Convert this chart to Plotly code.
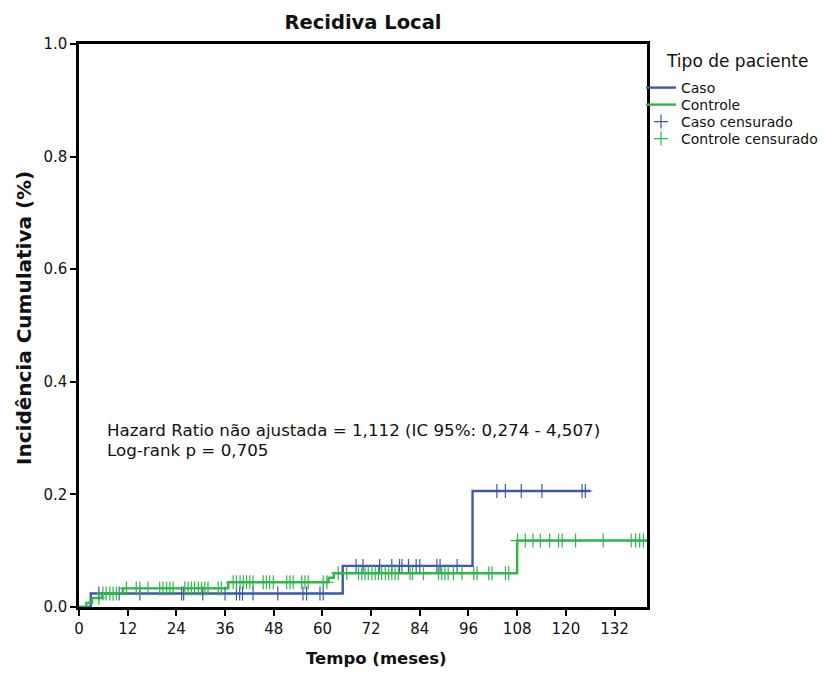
import plotly.graph_objects as go
import numpy as np

# ---- data ----
caso_t = [0, 2.9, 65.0, 97.0, 126.0]
caso_y = [0, 0.024, 0.073, 0.206, 0.206]
ctrl_t = [0, 1.8, 3.2, 5.7, 10.8, 36.8, 61.5, 62.8, 108.0, 140.0]
ctrl_y = [0, 0.007, 0.016, 0.024, 0.033, 0.044, 0.052, 0.060, 0.118, 0.118]

caso_cens = [4.9, 9.9, 15.0, 25.3, 25.8, 30.5, 36.0, 38.8, 39.6, 40.3, 42.9, 49.0,
             55.2, 56.1, 59.4, 60.2, 68.3, 70.0, 74.1, 77.1, 79.0, 79.6, 81.2, 83.1,
             84.0, 88.2, 89.0, 93.2, 103.0, 105.1, 109.0, 114.1, 124.0, 124.8]
ctrl_cens = [4.9, 5.9, 6.7, 7.6, 8.4, 9.2, 11.7, 14.1, 15.0, 17.0, 19.9, 20.7, 21.6,
             22.4, 23.2, 26.1, 26.9, 27.7, 28.5, 29.4, 30.2, 31.0, 31.8, 34.3, 35.1,
             38.0, 38.8, 39.7, 40.5, 41.3, 42.1, 42.9, 45.4, 46.2, 47.0, 47.9, 51.2,
             52.0, 52.8, 54.9, 55.7, 56.5, 60.2, 61.1, 63.9, 66.0, 68.9, 69.7, 70.5,
             71.3, 72.2, 73.0, 73.8, 74.6, 75.5, 76.3, 77.1, 77.9, 78.7, 81.6, 82.2,
             84.9, 88.6, 89.4, 90.2, 91.0, 92.3, 94.4, 97.3, 98.1, 101.0, 101.8,
             105.1, 105.9, 108.1, 110.0, 111.9, 113.7, 116.0, 118.2, 119.1, 122.4,
             129.2, 136.1, 137.2, 138.2, 139.1]

x_ticks = list(range(0, 133, 12))
y_ticks = [0.0, 0.2, 0.4, 0.6, 0.8, 1.0]

BLUE = "#3E58AC"
GREEN = "#2EB848"
FONT = "DejaVu Sans"
TXT = "#111"

# plot-area geometry in pixels (used to place paper-referenced text)
L, R, T, B = 79, 647, 44, 607


def px_x(px):
    return (px - L) / (R - L)


def px_y(py):
    return (B - py) / (B - T)


def step_value(ts, ys, t):
    idx = np.searchsorted(np.array(ts), t, side="right") - 1
    return ys[max(idx, 0)]


fig = go.Figure()
fig.add_trace(go.Scatter(x=caso_t, y=caso_y, mode="lines", line_shape="hv",
                         line=dict(color=BLUE, width=2.4), name="Caso",
                         legend="legend"))
fig.add_trace(go.Scatter(x=ctrl_t, y=ctrl_y, mode="lines", line_shape="hv",
                         line=dict(color=GREEN, width=2.4), name="Controle",
                         legend="legend2"))
fig.add_trace(go.Scatter(x=caso_cens, y=[step_value(caso_t, caso_y, t) for t in caso_cens],
                         mode="markers", name="Caso censurado", legend="legend3",
                         marker=dict(symbol="cross-thin", size=10,
                                     line=dict(color=BLUE, width=1.2), color=BLUE)))
fig.add_trace(go.Scatter(x=ctrl_cens, y=[step_value(ctrl_t, ctrl_y, t) for t in ctrl_cens],
                         mode="markers", name="Controle censurado", legend="legend4",
                         marker=dict(symbol="cross-thin", size=10,
                                     line=dict(color=GREEN, width=1.2), color=GREEN)))

fig.add_annotation(x=px_x(105), y=px_y(430), xref="paper", yref="paper",
                   xanchor="left", yanchor="middle",
                   text="Hazard Ratio não ajustada = 1,112 (IC 95%: 0,274 - 4,507)",
                   showarrow=False, font=dict(family=FONT, size=16.7, color=TXT))
fig.add_annotation(x=px_x(105), y=px_y(450), xref="paper", yref="paper",
                   xanchor="left", yanchor="middle",
                   text="Log-rank p = 0,705",
                   showarrow=False, font=dict(family=FONT, size=16.7, color=TXT))

# legend title placed as text to match its indentation
fig.add_annotation(x=px_x(664), y=px_y(61), xref="paper", yref="paper",
                   xanchor="left", yanchor="middle", text="Tipo de paciente",
                   showarrow=False, font=dict(family=FONT, size=17, color=TXT))

# axis titles
fig.add_annotation(x=px_x(376), y=px_y(658), xref="paper", yref="paper",
                   xanchor="center", yanchor="middle", text="<b>Tempo (meses)</b>",
                   showarrow=False, font=dict(family=FONT, size=16.5, color=TXT))
fig.add_annotation(x=px_x(24), y=px_y(318), xref="paper", yref="paper",
                   xanchor="center", yanchor="middle", textangle=-90,
                   text="<b>Incidência Cumulativa (%)</b>",
                   showarrow=False, font=dict(family=FONT, size=20, color=TXT))

leg_common = dict(xanchor="left", yanchor="middle", x=px_x(641),
                  font=dict(family=FONT, size=14, color=TXT),
                  itemwidth=30, bgcolor="rgba(0,0,0,0)")

fig.update_layout(
    width=824, height=673,
    margin=dict(l=L, r=824 - R, t=T, b=673 - B, autoexpand=False),
    paper_bgcolor="white", plot_bgcolor="white",
    font=dict(family=FONT, color=TXT),
    title=dict(text="<b>Recidiva Local</b>", x=363 / 824,
               xanchor="center", y=1 - 22 / 673, yanchor="middle",
               font=dict(family=FONT, size=19.5, color=TXT)),
    showlegend=True,
    legend=dict(y=px_y(88), **leg_common),
    legend2=dict(y=px_y(105), **leg_common),
    legend3=dict(y=px_y(122), **leg_common),
    legend4=dict(y=px_y(139), **leg_common),
)
fig.update_xaxes(range=[0, 140], tickvals=x_ticks, ticks="outside", ticklen=6,
                 tickwidth=2, tickcolor="black", showline=True, linecolor="black",
                 linewidth=2.5, mirror=True, showgrid=False, zeroline=False,
                 tickfont=dict(family=FONT, size=15, color=TXT))
fig.update_yaxes(range=[0, 1.0], tickvals=y_ticks, tickformat=".1f", ticks="outside",
                 ticklen=6, tickwidth=2, tickcolor="black", showline=True,
                 linecolor="black", linewidth=2.5, mirror=True, showgrid=False,
                 zeroline=False, tickfont=dict(family=FONT, size=15, color=TXT))

fig.write_html("out.html")
